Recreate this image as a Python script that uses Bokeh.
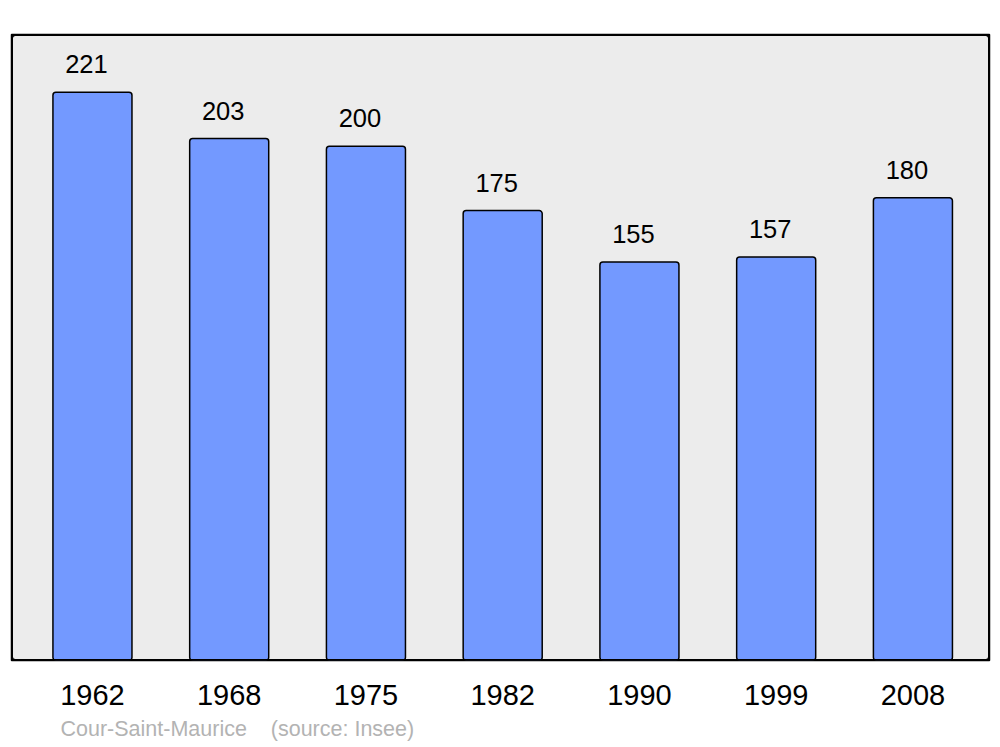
from bokeh.plotting import figure
from bokeh.models import Range1d, FixedTicker, BoxAnnotation, ColumnDataSource, Title
from bokeh.core.properties import value
from bokeh.embed import file_html
from bokeh.resources import INLINE

years = ["1962", "1968", "1975", "1982", "1990", "1999", "2008"]
population = [221, 203, 200, 175, 155, 157, 180]
source_text = "Cour-Saint-Maurice\u00a0\u00a0\u00a0\u00a0(source: Insee)"

idx = list(range(len(years)))
src = ColumnDataSource(dict(x=idx, y=population, lab=[str(v) for v in population]))

p = figure(width=1000, height=747, output_backend="svg", toolbar_location=None,
           x_range=Range1d(-0.592, 6.56), y_range=Range1d(0, 243.5),
           min_border_left=11, min_border_right=11, min_border_top=34, min_border_bottom=87)
p.background_fill_color = "#ececec"
p.border_fill_color = "white"
p.outline_line_color = "black"
p.outline_line_width = 1.5
p.grid.visible = False
p.yaxis.visible = False

p.vbar(x="x", top="y", width=0.578, source=src, fill_color="#7399ff",
       line_color="black", line_width=1.5, border_radius=3)

p.text(x="x", y="y", text="lab", source=src, y_offset=-28, x_offset=-6,
       text_align="center", text_baseline="middle",
       text_font=value("Liberation Sans"), text_font_size="25.5px", text_color="black")

frame = BoxAnnotation(fill_color=None, fill_alpha=0, line_color="black", line_alpha=1,
                      line_width=3, border_radius=4)
p.add_layout(frame)

ax = p.xaxis[0]
ax.ticker = FixedTicker(ticks=idx)
ax.major_label_overrides = {i: y for i, y in zip(idx, years)}
ax.axis_line_color = None
ax.major_tick_line_color = None
ax.minor_tick_line_color = None
ax.major_label_text_font = "Liberation Sans"
ax.major_label_text_font_size = "29px"
ax.major_label_text_color = "black"
ax.major_label_standoff = 18

p.add_layout(Title(text=source_text, align="left", offset=49, standoff=14,
                   text_font="Liberation Sans", text_font_size="21.5px",
                   text_font_style="normal", text_color="#b3b3b3"), "below")

open("out.html", "w").write(file_html(p, INLINE))
